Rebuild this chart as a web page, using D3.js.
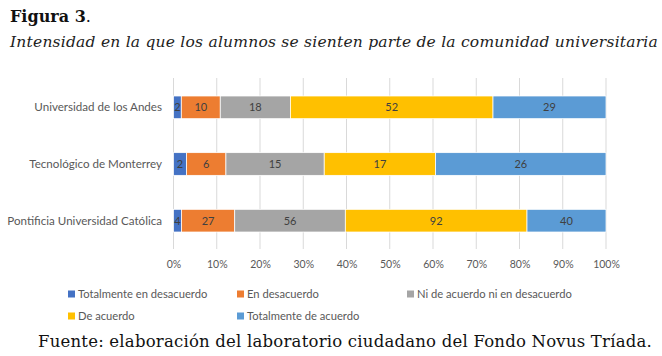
<!DOCTYPE html>
<html><head><meta charset="utf-8">
<script src="https://cdn.jsdelivr.net/npm/d3@7"></script>
<style>
body{margin:0;background:#fff;}
svg{display:block;}
</style></head>
<body>
<svg id="c" width="662" height="356"></svg>
<script>
const categories = ["Universidad de los Andes", "Tecnológico de Monterrey", "Pontificia Universidad Católica"];
const seriesNames = ["Totalmente en desacuerdo", "En desacuerdo", "Ni de acuerdo ni en desacuerdo", "De acuerdo", "Totalmente de acuerdo"];
const totDesacuerdo = [2, 2, 4];
const enDesacuerdo = [10, 6, 27];
const niNi = [18, 15, 56];
const deAcuerdo = [52, 17, 92];
const totAcuerdo = [29, 26, 40];
const tickLabels = ["0%","10%","20%","30%","40%","50%","60%","70%","80%","90%","100%"];
const colors = ["#4472C4", "#ED7D31", "#A5A5A5", "#FFC000", "#5B9BD5"];

const seriesValues = [totDesacuerdo, enDesacuerdo, niNi, deAcuerdo, totAcuerdo];
const rows = categories.map((c, i) => {
  const o = {cat: c};
  seriesNames.forEach((s, j) => o[s] = seriesValues[j][i]);
  return o;
});
const stacked = d3.stack().keys(seriesNames).offset(d3.stackOffsetExpand)(rows);

const svg = d3.select("#c");
const x = d3.scaleLinear().domain([0, 1]).range([173.5, 606]);
const y = d3.scaleBand().domain(categories).range([79, 249]).paddingInner(0.6).paddingOuter(0.3);
const font = "Lato, 'Open Sans', sans-serif";

function fitSpacing(sel, target) {
  const w = sel.node().getComputedTextLength();
  const n = sel.text().length;
  sel.attr("letter-spacing", ((target - w) / n).toFixed(3));
}

// Title
const t = svg.append("text").attr("x", 10).attr("y", 22).attr("font-family", "'DejaVu Serif', serif").attr("font-size", 16).attr("fill", "#111");
t.append("tspan").attr("font-weight", "bold").text("Figura 3");
t.append("tspan").text(".");
const sub = svg.append("text").attr("x", 10).attr("y", 47).attr("font-family", "'DejaVu Serif', serif")
  .attr("font-style", "italic").attr("font-size", 15.5).attr("fill", "#222")
  .text("Intensidad en la que los alumnos se sienten parte de la comunidad universitaria");
fitSpacing(sub, 648);

// gridlines
const ticks = d3.range(0, 1.0001, 0.1);
svg.append("g").selectAll("line").data(ticks).join("line")
  .attr("x1", d => x(d)).attr("x2", d => x(d))
  .attr("y1", 78).attr("y2", 249)
  .attr("stroke", "#d9d9d9").attr("stroke-width", 1);

// bars
const g = svg.append("g");
stacked.forEach((s, j) => {
  g.append("g").selectAll("rect").data(s).join("rect")
    .attr("x", d => x(d[0])).attr("width", d => x(d[1]) - x(d[0]))
    .attr("y", d => y(d.data.cat)).attr("height", y.bandwidth())
    .attr("fill", colors[j]).attr("stroke", "#fff").attr("stroke-width", 0.75);
  g.append("g").selectAll("text").data(s).join("text")
    .attr("x", d => (x(d[0]) + x(d[1])) / 2)
    .attr("y", d => y(d.data.cat) + y.bandwidth() / 2 + 4)
    .attr("text-anchor", "middle").attr("font-family", font).attr("font-size", 11)
    .attr("fill", "#404040")
    .text(d => d.data[s.key]);
});

// category labels
svg.append("g").selectAll("text").data(categories).join("text")
  .attr("x", 162).attr("y", d => y(d) + y.bandwidth() / 2 + 4)
  .attr("text-anchor", "end").attr("font-family", font).attr("font-size", 11.6)
  .attr("fill", "#595959").text(d => d);

// x axis
const ax = d3.axisBottom(x).tickValues(ticks).tickSize(0).tickFormat((d, i) => tickLabels[i]);
const axg = svg.append("g").attr("transform", "translate(0,258)").call(ax);
axg.select(".domain").remove();
axg.selectAll("text").attr("font-family", font).attr("font-size", 10.5).attr("fill", "#595959");

// legend
const legPos = [[68, 294], [237, 294], [407, 294], [68, 316], [237, 316]];
const lg = svg.append("g").selectAll("g").data(seriesNames).join("g")
  .attr("transform", (d, i) => `translate(${legPos[i][0]},${legPos[i][1]})`);
lg.append("rect").attr("x", 0).attr("y", -3.5).attr("width", 7).attr("height", 7).attr("fill", (d, i) => colors[i]);
lg.append("text").attr("x", 10).attr("y", 4).attr("font-family", font).attr("font-size", 11.2)
  .attr("fill", "#595959").text(d => d);

// footer
const foot = svg.append("text").attr("x", 38).attr("y", 347).attr("font-family", "'DejaVu Serif', serif")
  .attr("font-size", 16.5).attr("fill", "#111")
  .text("Fuente: elaboración del laboratorio ciudadano del Fondo Novus Tríada.");
fitSpacing(foot, 614);
</script>
</body></html>
